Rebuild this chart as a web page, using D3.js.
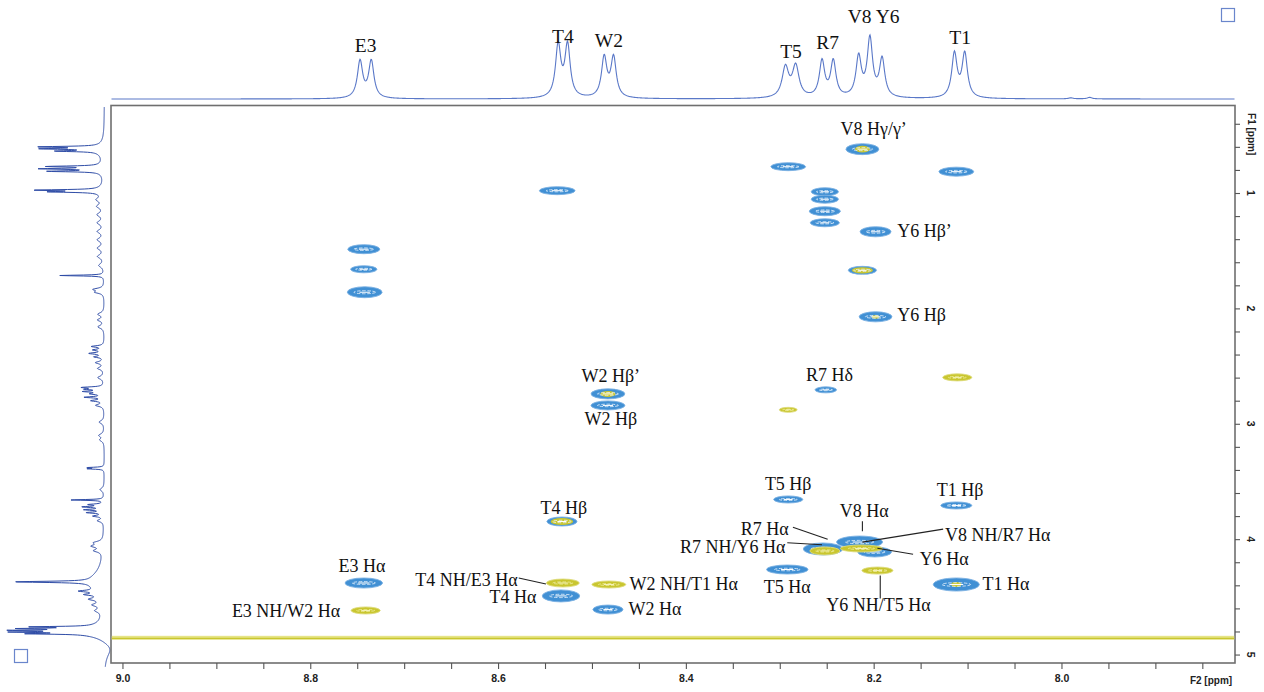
<!DOCTYPE html>
<html><head><meta charset="utf-8">
<script src="https://cdn.jsdelivr.net/npm/d3@7"></script>
<style>body{margin:0;background:#fff}svg{display:block}</style>
</head><body>
<svg id="c" width="1264" height="692"></svg>
<script>
// ---------- F2 (amide) projection: multiplet lines ----------
const topLinePpm    = [8.747, 8.735, 8.536, 8.526, 8.487, 8.477, 8.294, 8.283, 8.255, 8.243, 8.216, 8.204, 8.191, 8.114, 8.103, 7.990, 7.970];
const topLineHeight = [37, 37, 52, 52, 40, 40, 30, 31, 36, 36, 40, 58, 38, 44, 44, 1, 1.5];
const topLineWidth  = [0.0034, 0.0034, 0.0034, 0.0034, 0.0034, 0.0034, 0.0042, 0.0042, 0.0034, 0.0034, 0.0034, 0.0034, 0.0034, 0.0034, 0.0034, 0.003, 0.003];
const topLabels     = ["E3", "T4", "W2", "T5", "R7", "V8 Y6", "T1"];
const topLabelPpm   = [8.741, 8.531, 8.482, 8.288, 8.249, 8.200, 8.108];
const topLabelBase  = [52, 43, 47, 58, 49, 23, 44];

// ---------- F1 projection: lines (ppm, height, half width) ----------
const sideLinePpm = [0.600, 0.617, 0.637, 0.625, 0.770, 0.790, 0.812, 0.790, 0.975, 0.990, 0.980,
  1.058, 1.116, 1.188, 1.258, 1.333, 1.405, 1.477, 1.550, 1.628, 1.715, 1.835, 1.860,
  2.050, 2.100, 2.160, 2.330, 2.360, 2.390, 2.420, 2.470, 2.520, 2.600,
  2.685, 2.700, 2.720, 2.740, 2.770, 2.800, 2.840, 2.985, 3.100, 3.140, 3.380, 3.390, 3.570, 3.660,
  3.700, 3.720, 3.745, 3.770, 3.800, 3.840, 4.030, 4.060, 4.100, 4.370, 4.370,
  4.450, 4.480, 4.520, 4.570, 4.620, 4.760, 4.775, 4.790, 4.805, 4.820, 4.800, 4.950];
const sideLineHeight = [58, 52, 40, 7, 50, 55, 50, 5, 62, 46, 5,
  6, 6, 6, 6, 6, 6, 6, 6, 5, 44, 10, 8,
  6, 6, 6, 12, 10, 14, 9, 8, 6, 6,
  20, 16, 18, 12, 18, 12, 8, 5, 5, 4, 16, 15, 4, 33,
  14, 20, 18, 16, 10, 6, 8, 10, 8, 76, 14,
  16, 12, 10, 8, 6, 58, 60, 60, 58, 50, 32, -8];
const sideLineWidth = [0.005, 0.005, 0.005, 0.05, 0.005, 0.005, 0.005, 0.04, 0.005, 0.005, 0.04,
  0.02, 0.02, 0.02, 0.02, 0.02, 0.02, 0.02, 0.02, 0.02, 0.004, 0.012, 0.012,
  0.016, 0.014, 0.016, 0.008, 0.008, 0.008, 0.008, 0.012, 0.014, 0.016,
  0.006, 0.006, 0.006, 0.008, 0.006, 0.008, 0.012, 0.016, 0.016, 0.016, 0.004, 0.004, 0.016, 0.004,
  0.006, 0.006, 0.006, 0.006, 0.008, 0.012, 0.014, 0.014, 0.014, 0.006, 0.10,
  0.008, 0.008, 0.012, 0.014, 0.016, 0.004, 0.004, 0.004, 0.004, 0.004, 0.04, 0.08];

// ---------- 2D cross peaks ----------
const peakF2 = [8.212, 8.291, 8.112, 8.252, 8.252, 8.252, 8.252, 8.198, 8.212, 8.198, 8.537,
  8.743, 8.743, 8.742, 8.483, 8.483, 8.251, 8.111, 8.291, 8.291, 8.112, 8.532,
  8.215, 8.254, 8.199, 8.292, 8.112, 8.743, 8.533, 8.483,
  8.252, 8.213, 8.196, 8.741, 8.531, 8.482];
const peakF1 = [0.620, 0.772, 0.815, 0.989, 1.054, 1.158, 1.258, 1.336, 1.670, 2.073, 0.980,
  1.487, 1.661, 1.860, 2.741, 2.841, 2.706, 2.598, 2.879, 3.656, 3.708, 3.847,
  4.025, 4.085, 4.111, 4.263, 4.393, 4.380, 4.492, 4.610,
  4.102, 4.081, 4.272, 4.618, 4.380, 4.393];
const peakLw2 = [0.035, 0.037, 0.037, 0.029, 0.029, 0.033, 0.031, 0.033, 0.030, 0.035, 0.038,
  0.034, 0.028, 0.037, 0.036, 0.036, 0.023, 0.031, 0.019, 0.031, 0.033, 0.032,
  0.049, 0.042, 0.036, 0.044, 0.049, 0.040, 0.040, 0.032,
  0.032, 0.045, 0.033, 0.031, 0.035, 0.036];
const peakLw1 = [0.095, 0.069, 0.078, 0.069, 0.069, 0.078, 0.069, 0.087, 0.069, 0.087, 0.069,
  0.078, 0.061, 0.095, 0.087, 0.078, 0.052, 0.061, 0.043, 0.061, 0.061, 0.078,
  0.104, 0.104, 0.087, 0.078, 0.113, 0.087, 0.104, 0.078,
  0.069, 0.061, 0.061, 0.061, 0.069, 0.061];
// level class: TOCSY (blue), NOE (yellow), or blue with a yellow core of some size
const peakKind = ["bc", "b", "b", "b", "b", "b", "b", "b", "bC", "bs", "b",
  "b", "b", "b", "bc", "b", "b", "y", "y", "b", "b", "bC",
  "b", "b", "b", "b", "bs", "b", "b", "b",
  "y", "y", "y", "y", "y", "y"];

// ---------- assignments ----------
const annText = ["V8 Hγ/γ’", "Y6 Hβ’", "Y6 Hβ", "W2 Hβ’", "W2 Hβ", "R7 Hδ", "T5 Hβ", "T1 Hβ", "T4 Hβ",
  "V8 Hα", "R7 Hα", "V8 NH/R7 Hα", "R7 NH/Y6 Hα", "Y6 Hα", "E3 Hα", "T4 NH/E3 Hα", "W2 NH/T1 Hα",
  "T5 Hα", "T1 Hα", "T4 Hα", "E3 NH/W2 Hα", "W2 Hα", "Y6 NH/T5 Hα"];
const annF2 = [8.200, 8.175, 8.175, 8.480, 8.480, 8.247, 8.291, 8.108, 8.530,
  8.210, 8.316, 8.124, 8.294, 8.151, 8.745, 8.579, 8.460,
  8.292, 8.084, 8.559, 8.768, 8.461, 8.195];
const annF1 = [0.494, 1.379, 2.108, 2.637, 3.010, 2.628, 3.577, 3.622, 3.778,
  3.812, 3.968, 4.012, 4.124, 4.228, 4.284, 4.406, 4.441,
  4.467, 4.441, 4.553, 4.674, 4.657, 4.623];
const annAnchor = ["middle", "start", "start", "middle", "middle", "middle", "middle", "middle", "middle",
  "middle", "middle", "start", "end", "start", "middle", "end", "start",
  "middle", "start", "end", "end", "start", "middle"];
// leader lines: [F2 from, F1 from, F2 to, F1 to]
const leaders = [
  [8.578, 4.336, 8.549, 4.388],
  [8.212, 3.844, 8.212, 3.931],
  [8.286, 3.896, 8.249, 4.000],
  [8.292, 4.031, 8.255, 4.048],
  [8.126, 3.913, 8.212, 4.026],
  [8.158, 4.131, 8.196, 4.079],
  [8.193, 4.314, 8.193, 4.514]
];

const f2TickLabels = ["9.0", "8.8", "8.6", "8.4", "8.2", "8.0"];
const f1TickLabels = ["1", "2", "3", "4", "5"];
const waterF1 = 4.855;

// ---------- drawing ----------
const BLUE = "#4190d4", BLUE_EDGE = "#7ab0e2", YEL = "#c9c62f", YEL_EDGE = "#dedb7c";
const TRACE = "#5a78c8", TRACE_DARK = "#2e4ca6";
const svg = d3.select("#c");
const x = d3.scaleLinear().domain([9.0122, 7.8152]).range([111, 1235]);
const y = d3.scaleLinear().domain([0.2373, 5.0689]).range([105, 662.5]);
const yTop = d3.scaleLinear().domain([0, 100]).range([99, -1]);
const xSide = d3.scaleLinear().domain([0, 100]).range([104.5, 4.5]);

function spectrum(pos, hts, wid, ppm) {
  let s = 0;
  for (let i = 0; i < pos.length; i++) {
    const d = (ppm - pos[i]) / wid[i];
    s += hts[i] / (1 + d * d);
  }
  return s;
}

// top projection
const topPts = d3.range(111.5, 1234.6, 0.5).map(px => {
  const p = x.invert(px);
  return [px, yTop(spectrum(topLinePpm, topLineHeight, topLineWidth, p))];
});
svg.append("path").attr("d", d3.line()(topPts))
  .attr("fill", "none").attr("stroke", TRACE).attr("stroke-width", 1.1);

svg.append("g").selectAll("text").data(topLabels).join("text")
  .attr("x", (d, i) => x(topLabelPpm[i])).attr("y", (d, i) => topLabelBase[i])
  .attr("text-anchor", "middle")
  .attr("font-family", "'Liberation Serif','Times New Roman',serif").attr("font-size", 19.5)
  .attr("fill", "#111").text(d => d);

// side projection
const sidePts = d3.range(107, 667, 0.25).map(py => {
  const p = y.invert(py);
  return [xSide(spectrum(sideLinePpm, sideLineHeight, sideLineWidth, p)), py];
});
svg.append("path").attr("d", d3.line()(sidePts))
  .attr("fill", "none").attr("stroke", TRACE_DARK).attr("stroke-width", 1);

// frame
svg.append("rect").attr("x", 111).attr("y", 105.5).attr("width", 1124).attr("height", 557.5)
  .attr("fill", "none").attr("stroke", "#6f6f6f").attr("stroke-width", 1.6);

// solvent ridge
svg.append("rect").attr("x", 111.8).attr("width", 1122.4)
  .attr("y", y(waterF1) - 2).attr("height", 4).attr("fill", "#e6e487");
svg.append("line").attr("x1", 111.8).attr("x2", 1234.2)
  .attr("y1", y(waterF1) + 0.6).attr("y2", y(waterF1) + 0.6)
  .attr("stroke", YEL).attr("stroke-width", 1.4);

// cross peaks: blue first, then NOE peaks on top
const peaks = peakF2.map((f2, i) => ({f2, f1: peakF1[i], w2: peakLw2[i], w1: peakLw1[i], k: peakKind[i]}));
const order = peaks.filter(p => p.k !== "y").concat(peaks.filter(p => p.k === "y"));
const pg = svg.append("g");
order.forEach(p => {
  const cx = x(p.f2), cy = y(p.f1);
  const rx = Math.abs(x(p.f2 + p.w2 / 2) - x(p.f2 - p.w2 / 2)) / 2;
  const ry = Math.abs(y(p.f1 + p.w1 / 2) - y(p.f1 - p.w1 / 2)) / 2;
  const g = pg.append("g");
  const isY = p.k === "y";
  g.append("ellipse").attr("cx", cx).attr("cy", cy).attr("rx", rx).attr("ry", ry)
    .attr("fill", isY ? YEL : BLUE).attr("stroke", isY ? YEL_EDGE : BLUE_EDGE).attr("stroke-width", 0.9);
  const core = {bc: 0.45, bC: 0.75, bs: 0.22}[p.k];
  if (core) {
    g.append("ellipse").attr("cx", cx).attr("cy", cy).attr("rx", rx * core).attr("ry", ry * Math.min(0.8, core + 0.15))
      .attr("fill", YEL);
  }
  g.append("ellipse").attr("cx", cx).attr("cy", cy).attr("rx", rx * 0.62).attr("ry", Math.max(0.6, ry * 0.28))
    .attr("fill", "none").attr("stroke", isY ? "#efed9e" : "#e8f2fc").attr("stroke-width", 0.8)
    .attr("stroke-dasharray", "3.5 1.6");
  g.append("line").attr("x1", cx - rx * 0.3).attr("x2", cx + rx * 0.3).attr("y1", cy).attr("y2", cy)
    .attr("stroke", isY ? "#f4f2b8" : "#ffffff").attr("stroke-width", 1);
});

// leader lines and assignment labels
svg.append("g").selectAll("line").data(leaders).join("line")
  .attr("x1", d => x(d[0])).attr("y1", d => y(d[1])).attr("x2", d => x(d[2])).attr("y2", d => y(d[3]))
  .attr("stroke", "#222").attr("stroke-width", 1.1);
svg.append("g").selectAll("text").data(annText).join("text")
  .attr("x", (d, i) => x(annF2[i])).attr("y", (d, i) => y(annF1[i]))
  .attr("text-anchor", (d, i) => annAnchor[i])
  .attr("font-family", "'Liberation Serif','Times New Roman',serif").attr("font-size", 18)
  .attr("fill", "#111").text(d => d);

// F2 axis
const f2Ticks = d3.range(0, 24).map(i => +(9.0 - i * 0.05).toFixed(2));
const axB = svg.append("g").attr("transform", "translate(0,663)")
  .call(d3.axisBottom(x).tickValues(f2Ticks).tickSize(6).tickPadding(6)
    .tickFormat(v => { const s = v.toFixed(1); return f2TickLabels.includes(s) && Math.abs(v * 5 - Math.round(v * 5)) < 1e-6 ? s : ""; }));
axB.select(".domain").remove();
axB.selectAll("line").attr("stroke", "#555").attr("stroke-width", 1.1);
axB.selectAll("text").attr("font-family", "'Liberation Sans',Arial,sans-serif").attr("font-weight", "bold")
  .attr("font-size", 10.5).attr("fill", "#222");
svg.append("text").attr("x", 1211).attr("y", 684).attr("text-anchor", "middle")
  .attr("font-family", "'Liberation Sans',Arial,sans-serif").attr("font-weight", "bold").attr("font-size", 10)
  .attr("fill", "#222").text("F2 [ppm]");

// F1 axis
const f1Ticks = d3.range(2, 26).map(i => +(i * 0.2).toFixed(1));
const axR = svg.append("g").attr("transform", "translate(1235,0)")
  .call(d3.axisRight(y).tickValues(f1Ticks).tickSize(5).tickFormat(() => ""));
axR.select(".domain").remove();
axR.selectAll("line").attr("stroke", "#555").attr("stroke-width", 1.1);
svg.append("g").selectAll("text").data(f1TickLabels).join("text")
  .attr("transform", d => `translate(1251,${y(+d)}) rotate(90)`)
  .attr("text-anchor", "middle").attr("dy", "0.35em")
  .attr("font-family", "'Liberation Sans',Arial,sans-serif").attr("font-weight", "bold").attr("font-size", 10.5)
  .attr("fill", "#222").text(d => d);
svg.append("text").attr("transform", `translate(1251,${y(0.49)}) rotate(90)`)
  .attr("text-anchor", "middle").attr("dy", "0.35em")
  .attr("font-family", "'Liberation Sans',Arial,sans-serif").attr("font-weight", "bold").attr("font-size", 10)
  .attr("fill", "#222").text("F1 [ppm]");

// projection handles
svg.append("rect").attr("x", 1221.5).attr("y", 8.5).attr("width", 13).attr("height", 13)
  .attr("fill", "none").attr("stroke", "#6a86cc").attr("stroke-width", 1.2);
svg.append("rect").attr("x", 14.5).attr("y", 649.5).attr("width", 13).attr("height", 13)
  .attr("fill", "none").attr("stroke", "#6a86cc").attr("stroke-width", 1.2);
</script>
</body></html>
